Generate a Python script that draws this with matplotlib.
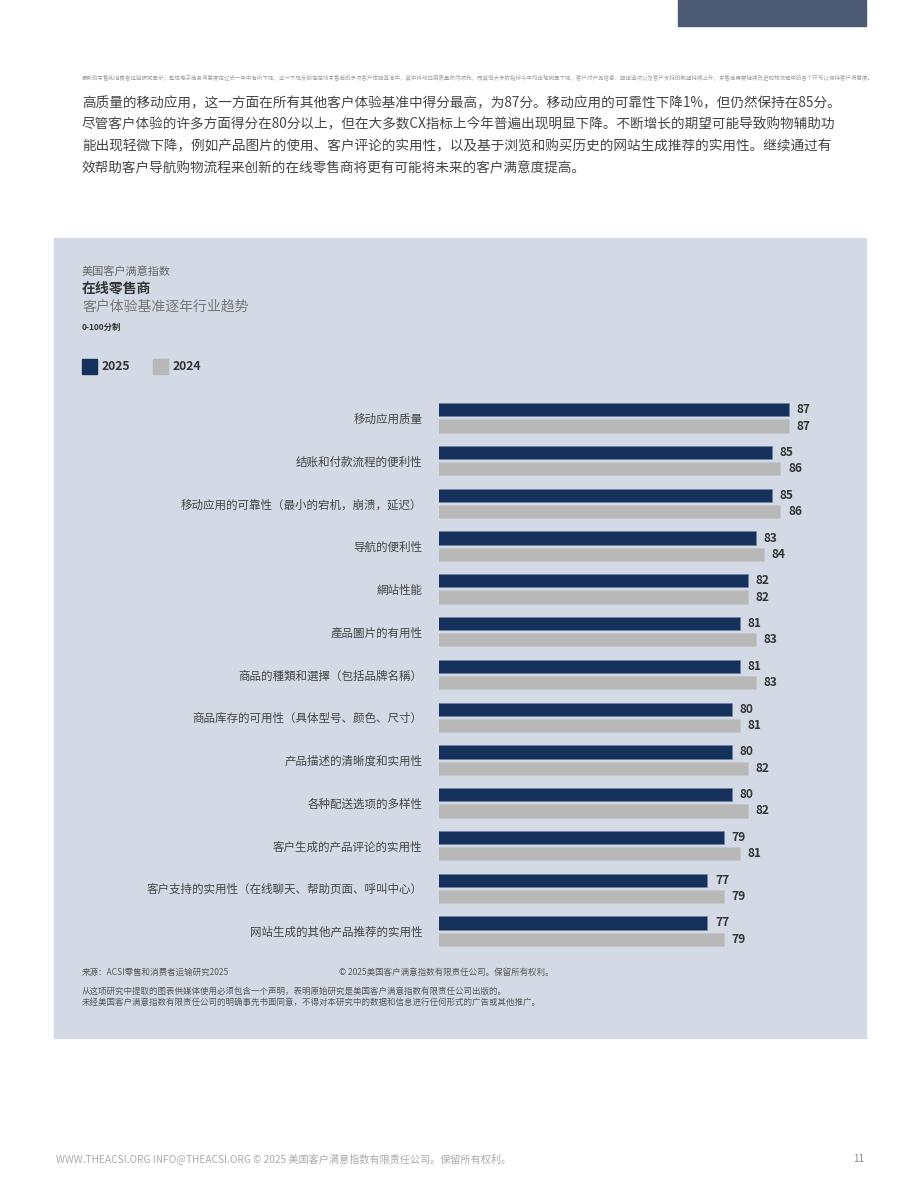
import matplotlib
matplotlib.use('Agg')
import matplotlib.pyplot as plt
from matplotlib.patches import Rectangle
import numpy as np

plt.rcParams['font.family'] = ['Noto Sans CJK SC', 'DejaVu Sans']

# data
categories = [
    '移动应用质量',
    '结账和付款流程的便利性',
    '移动应用的可靠性（最小的宕机，崩溃，延迟）',
    '导航的便利性',
    '網站性能',
    '產品圖片的有用性',
    '商品的種類和選擇（包括品牌名稱）',
    '商品库存的可用性（具体型号、颜色、尺寸）',
    '产品描述的清晰度和实用性',
    '各种配送选项的多样性',
    '客户生成的产品评论的实用性',
    '客户支持的实用性（在线聊天、帮助页面、呼叫中心）',
    '网站生成的其他产品推荐的实用性',
]
scores_2025 = [87, 85, 85, 83, 82, 81, 81, 80, 80, 80, 79, 77, 77]
scores_2024 = [87, 86, 86, 84, 82, 83, 83, 81, 82, 82, 81, 79, 79]
years = ['2025', '2024']

body_lines = [
    '高质量的移动应用，这一方面在所有其他客户体验基准中得分最高，为87分。移动应用的可靠性下降1%，但仍然保持在85分。',
    '尽管客户体验的许多方面得分在80分以上，但在大多数CX指标上今年普遍出现明显下降。不断增长的期望可能导致购物辅助功',
    '能出现轻微下降，例如产品图片的使用、客户评论的实用性，以及基于浏览和购买历史的网站生成推荐的实用性。继续通过有',
    '效帮助客户导航购物流程来创新的在线零售商将更有可能将未来的客户满意度提高。',
]
tiny_line = ('最新的零售和消费者运输研究显示，整体电子商务满意度在过去一年中有所下降，这一下降反映在在线零售商的多项客户体验基准中，'
             '其中移动应用质量依然领先，而其他大多数指标今年均出现明显下降，客户对产品信息、配送选项以及客户支持的期望持续上升，'
             '零售商需要继续改进购物流程中的各个环节以保持客户满意度。')

navy = '#15305a'
grey = '#b8b8b8'
panel = '#d3dae6'

W, H = 920, 1191
fig = plt.figure(figsize=(W / 100, H / 100), dpi=100)
fig.patch.set_facecolor('white')

def fx(x):
    return x / W

def fy(y):
    return 1 - y / H

# header block + panel
fig.add_artist(Rectangle((fx(678), fy(26)), fx(866) - fx(678), fy(0) - fy(26),
                         transform=fig.transFigure, color='#4b5a72', zorder=0))
fig.add_artist(Rectangle((fx(54), fy(1038)), fx(866) - fx(54), fy(238) - fy(1038),
                         transform=fig.transFigure, color=panel, zorder=0))

# body text
fig.text(fx(82), fy(78), tiny_line, fontsize=3.95, color='#a0a0a0', va='center')
for i, line in enumerate(body_lines):
    fig.text(fx(82), fy(103 + i * 21.7), line, fontsize=9.8, color='#444444', va='center')

# chart titles
fig.text(fx(82), fy(272), '美国客户满意指数', fontsize=8, color='#666666', va='center')
fig.text(fx(82), fy(289), '在线零售商', fontsize=10, fontweight='bold', color='#333333', va='center')
fig.text(fx(82), fy(307), '客户体验基准逐年行业趋势', fontsize=10, color='#777777', va='center')
fig.text(fx(82), fy(327), '0-100分制', fontsize=6, fontweight='bold', color='#333333', va='center')

# legend
for x0, c, lab in [(82, navy, years[0]), (153, grey, years[1])]:
    fig.add_artist(Rectangle((fx(x0), fy(374)), fx(15), fy(359) - fy(374),
                             transform=fig.transFigure, color=c))
    fig.text(fx(x0 + 20), fy(367), lab, fontsize=8.8, fontweight='bold', color='#333333', va='center')

# bar chart
ax = fig.add_axes([fx(439), fy(952.4), fx(860) - fx(439), fy(396.6) - fy(952.4)])
ax.set_facecolor('none')
y = np.arange(len(categories))
off = 0.19
h = 0.31
ax.barh(y - off, scores_2025, height=h, color=navy, edgecolor='#6f82a3', linewidth=0.4)
ax.barh(y + off, scores_2024, height=h, color=grey, edgecolor='#c4c4c4', linewidth=0.4)
ax.set_xlim(44, 44 + (860 - 439) / 8.13)
ax.set_ylim(len(categories) - 0.5, -0.5)

for yi, a, b in zip(y, scores_2025, scores_2024):
    ax.annotate(str(a), (a, yi - off), xytext=(5.5, 0), textcoords='offset points',
                va='center', ha='left', fontsize=8.6, fontweight='bold', color='#333333')
    ax.annotate(str(b), (b, yi + off), xytext=(5.5, 0), textcoords='offset points',
                va='center', ha='left', fontsize=8.6, fontweight='bold', color='#333333')

ax.set_yticks(y)
ax.set_yticklabels(categories, fontsize=8.3, color='#444444')
ax.tick_params(axis='y', length=0, pad=12)
ax.set_xticks([])
for s in ax.spines.values():
    s.set_visible(False)

# sources
fig.text(fx(82), fy(972), '来源：ACSI零售和消费者运输研究2025', fontsize=6.1, color='#555555', va='center')
fig.text(fx(339), fy(972), '© 2025美国客户满意指数有限责任公司。保留所有权利。', fontsize=6.1, color='#555555', va='center')
fig.text(fx(82), fy(991), '从这项研究中提取的图表供媒体使用必须包含一个声明，表明原始研究是美国客户满意指数有限责任公司出版的。',
         fontsize=6.1, color='#555555', va='center')
fig.text(fx(82), fy(1002), '未经美国客户满意指数有限责任公司的明确事先书面同意，不得对本研究中的数据和信息进行任何形式的广告或其他推广。',
         fontsize=6.1, color='#555555', va='center')

# page footer
fig.text(fx(56), fy(1159), 'WWW.THEACSI.ORG INFO@THEACSI.ORG © 2025 美国客户满意指数有限责任公司。保留所有权利。',
         fontsize=7.3, color='#aaaaaa', va='center')
fig.text(fx(864), fy(1159), '11', fontsize=7, color='#888888', va='center', ha='right')

fig.savefig('out.png', dpi=100)
